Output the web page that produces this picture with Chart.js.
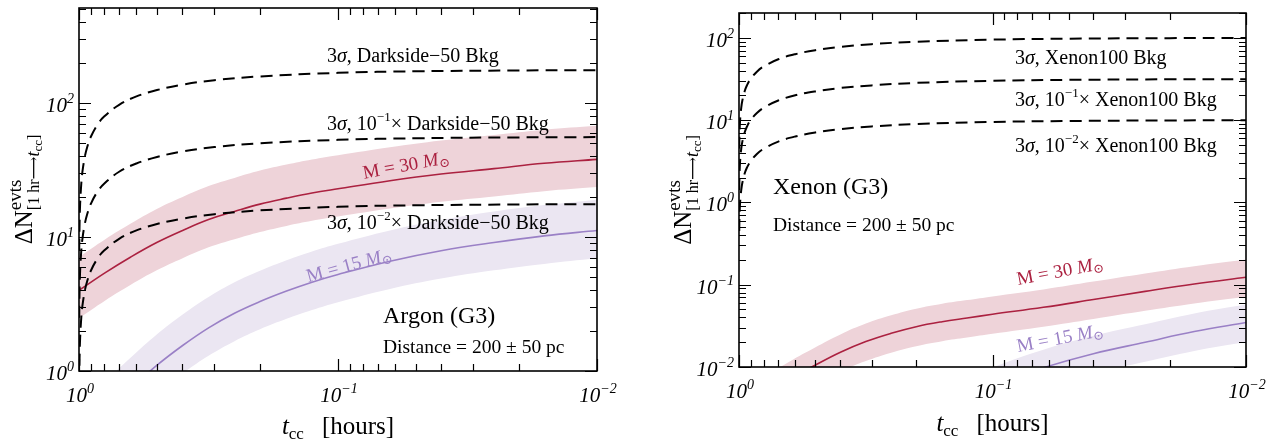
<!DOCTYPE html>
<html lang="en">
<head>
<meta charset="UTF-8">
<title>Event counts vs t_cc, Argon and Xenon (G3)</title>
<script src="https://cdn.jsdelivr.net/npm/chart.js"></script>
<style>
  body { margin: 0; background: #fff; }
  .panel { position: absolute; top: 0; height: 441px; }
</style>
</head>
<body>
<div class="panel" style="left:0;width:637px"><canvas id="argon" width="637" height="441"></canvas></div>
<div class="panel" style="left:637px;width:638px"><canvas id="xenon" width="638" height="441"></canvas></div>
<script>
// t_cc in hours (x axis, runs from 1 down to 0.01)
const tDashed = [0.998, 0.995, 0.99, 0.98, 0.97, 0.95, 0.93, 0.9, 0.85, 0.8, 0.7, 0.6, 0.5, 0.4, 0.3, 0.2, 0.1, 0.05, 0.02, 0.01];
const tModel = [1, 0.794, 0.631, 0.501, 0.398, 0.316, 0.251, 0.2, 0.158, 0.126, 0.1, 0.063, 0.04, 0.025, 0.016, 0.01];

// Argon (G3): 3 sigma background thresholds
const arBkg = [7.9, 12.5, 17.7, 25, 30.7, 39.6, 46.8, 56, 68.6, 79.2, 96.9, 112, 125, 137, 148, 158, 168, 172.5, 175, 176];
const arBkg01 = [2.5, 4.0, 5.6, 7.9, 9.7, 12.5, 14.8, 17.7, 21.7, 25, 30.7, 35.4, 39.6, 43.4, 46.9, 50.1, 53.1, 54.6, 55.4, 55.7];
const arBkg001 = [0.79, 1.25, 1.77, 2.5, 3.07, 3.96, 4.68, 5.6, 6.86, 7.92, 9.7, 11.2, 12.5, 13.7, 14.8, 15.8, 16.8, 17.25, 17.5, 17.6];
// Argon signal, M = 30 and M = 15 solar masses (central, 150 pc, 250 pc)
const ar30 = [4.0, 5.4, 7.1, 9.1, 11.2, 13.5, 15.5, 17.6, 19.5, 21.3, 22.9, 26.3, 29.5, 32.4, 35.5, 38.0];
const ar30Hi = [7.1, 9.6, 12.6, 16.2, 19.9, 24.0, 27.6, 31.3, 34.7, 37.9, 40.8, 46.8, 52.5, 57.7, 63.2, 67.6];
const ar30Lo = [2.48, 3.35, 4.4, 5.64, 6.94, 8.37, 9.61, 10.9, 12.1, 13.2, 14.2, 16.3, 18.3, 20.1, 22.0, 23.6];
const ar15 = [0.28, 0.48, 0.74, 1.1, 1.55, 2.1, 2.7, 3.3, 3.95, 4.6, 5.25, 6.6, 7.9, 9.1, 10.2, 11.2];
const ar15Hi = [0.48, 0.82, 1.26, 1.87, 2.64, 3.57, 4.6, 5.6, 6.7, 7.8, 8.9, 11.2, 13.4, 15.5, 17.3, 19.0];
const ar15Lo = [0.17, 0.3, 0.46, 0.68, 0.96, 1.3, 1.67, 2.05, 2.45, 2.85, 3.26, 4.1, 4.9, 5.64, 6.3, 6.94];

// Xenon (G3)
const xeBkg = [4.5, 7.07, 10, 14.1, 17.3, 22.4, 26.5, 31.6, 38.7, 44.7, 54.8, 63.2, 70.7, 77.5, 83.7, 89.4, 94.9, 97.5, 99, 99.5];
const xeBkg01 = [1.41, 2.23, 3.16, 4.47, 5.47, 7.07, 8.36, 10, 12.2, 14.1, 17.3, 20, 22.3, 24.5, 26.4, 28.3, 30, 30.8, 31.3, 31.4];
const xeBkg001 = [0.45, 0.71, 1, 1.41, 1.73, 2.24, 2.65, 3.16, 3.87, 4.47, 5.48, 6.32, 7.07, 7.75, 8.37, 8.94, 9.49, 9.75, 9.9, 9.95];
const xe30 = [0.0025, 0.0045, 0.0071, 0.0105, 0.0151, 0.0204, 0.0257, 0.0309, 0.0355, 0.0394, 0.0437, 0.0531, 0.066, 0.083, 0.102, 0.123];
const xe30Hi = [0.0041, 0.0074, 0.0117, 0.0173, 0.0249, 0.0337, 0.0424, 0.051, 0.0586, 0.065, 0.0721, 0.0876, 0.109, 0.137, 0.168, 0.203];
const xe30Lo = [0.00145, 0.0026, 0.0041, 0.0061, 0.0088, 0.0118, 0.0149, 0.0179, 0.0206, 0.0228, 0.0253, 0.0308, 0.0383, 0.0481, 0.0592, 0.0713];
const tXe15 = [0.398, 0.251, 0.158, 0.1, 0.063, 0.04, 0.025, 0.016, 0.01];
const xe15 = [0.001, 0.002, 0.0035, 0.006, 0.0098, 0.0145, 0.020, 0.027, 0.0347];
const xe15Hi = [0.00165, 0.0033, 0.0058, 0.0099, 0.0162, 0.0239, 0.033, 0.0446, 0.0573];
const xe15Lo = [0.00058, 0.00116, 0.002, 0.0035, 0.0057, 0.0084, 0.0116, 0.0157, 0.0201];

const RED = '#ab2140', RED_BAND = '#eed3d9';
const PURPLE = '#9a80c6', PURPLE_BAND = '#ebe6f2';
const SERIF = '"Liberation Serif", "DejaVu Serif", serif';

const pts = (xs, ys) => xs.map((x, i) => ({ x: x, y: ys[i] }));

function dashed(xs, ys) {
  return { data: pts(xs, ys), borderColor: '#000', borderWidth: 2, borderDash: [12, 7], fill: false };
}
function solid(xs, ys, color) {
  return { data: pts(xs, ys), borderColor: color, borderWidth: 1.6, fill: false };
}
function bandTop(xs, ys, color) {
  return { data: pts(xs, ys), borderColor: 'rgba(0,0,0,0)', borderWidth: 1, fill: '+1', backgroundColor: color };
}
function bandBottom(xs, ys) {
  return { data: pts(xs, ys), borderColor: 'rgba(0,0,0,0)', borderWidth: 1, fill: false };
}

// draws a run of text pieces: {t, s: size, i: italic, dy: baseline shift, back: start at previous piece}
function measureRich(ctx, segs) {
  let cur = 0, prevStart = 0;
  const out = [];
  segs.forEach(sg => {
    ctx.font = (sg.i ? 'italic ' : '') + sg.s + 'px ' + SERIF;
    const w = ctx.measureText(sg.t).width;
    const start = sg.back ? prevStart : cur;
    out.push({ sg: sg, x: start });
    prevStart = start;
    cur = Math.max(cur, start + w + (sg.gap || 0));
  });
  return { parts: out, width: cur };
}
function drawRich(ctx, x, y, segs, align, color) {
  const m = measureRich(ctx, segs);
  let x0 = x;
  if (align === 'center') x0 = x - m.width / 2;
  if (align === 'right') x0 = x - m.width;
  ctx.fillStyle = color || '#000';
  ctx.textBaseline = 'alphabetic';
  ctx.textAlign = 'left';
  m.parts.forEach(p => {
    ctx.font = (p.sg.i ? 'italic ' : '') + p.sg.s + 'px ' + SERIF;
    ctx.fillText(p.sg.t, x0 + p.x, y + (p.sg.dy || 0));
  });
}

function powLabel(e) {
  return [{ t: '10', s: 21, i: true }, { t: e < 0 ? '\u2212' + (-e) : String(e), s: 14, i: true, dy: -9 }];
}

const yTitle = [
  { t: '\u0394N', s: 25 },
  { t: 'evts', s: 19, dy: -11 },
  { t: '[1 hr\u27F6', s: 16, dy: 7, back: true },
  { t: 't', s: 18, i: true, dy: 7 },
  { t: 'cc', s: 13, dy: 10 },
  { t: ']', s: 16, dy: 7 }
];
const xTitle = [
  { t: 't', s: 25, i: true },
  { t: 'cc', s: 17, dy: 5, gap: 18 },
  { t: '[hours]', s: 25 }
];
function sigmaLine(exp, rest) {
  const s = [{ t: '3', s: 20 }, { t: '\u03C3', s: 20, i: true }];
  if (exp === null) { s.push({ t: ', ' + rest, s: 20 }); return s; }
  s.push({ t: ', 10', s: 20 }, { t: '\u2212' + exp, s: 13, dy: -9 }, { t: '\u00D7 ' + rest, s: 20 });
  return s;
}
function massLabel(m) {
  return [{ t: 'M = ' + m + ' ', s: 19 }, { t: 'M', s: 19, i: true }, { t: '\u2299', s: 13, dy: 3 }];
}

const axesPlugin = {
  id: 'axesPlugin',
  afterDraw(chart, args, o) {
    const { ctx, chartArea: a } = chart;
    const xs = chart.scales.x, ys = chart.scales.y;
    ctx.save();
    ctx.strokeStyle = '#000';
    // inner ticks on all four sides
    ctx.lineWidth = 1.2;
    ctx.beginPath();
    for (let e = -2; e <= 0; e++) {
      for (let m = 1; m <= 9; m++) {
        const v = m * Math.pow(10, e);
        if (v > 1.0001) continue;
        const px = Math.round(xs.getPixelForValue(v)) + 0.5;
        const len = m === 1 ? 12 : 7;
        ctx.moveTo(px, a.bottom); ctx.lineTo(px, a.bottom - len);
        ctx.moveTo(px, a.top); ctx.lineTo(px, a.top + len);
      }
    }
    for (let e = o.yExpMin; e <= o.yExpMax; e++) {
      for (let m = 1; m <= 9; m++) {
        const v = m * Math.pow(10, e);
        if (v > ys.max * 1.0001 || v < ys.min * 0.9999) continue;
        const py = Math.round(ys.getPixelForValue(v)) + 0.5;
        const len = m === 1 ? 12 : 7;
        ctx.moveTo(a.left, py); ctx.lineTo(a.left + len, py);
        ctx.moveTo(a.right, py); ctx.lineTo(a.right - len, py);
      }
    }
    ctx.stroke();
    ctx.lineWidth = 1.6;
    ctx.strokeRect(a.left, a.top, a.right - a.left, a.bottom - a.top);

    // tick labels
    for (let e = -2; e <= 0; e++) {
      drawRich(ctx, xs.getPixelForValue(Math.pow(10, e)) + 1, a.bottom + 31, powLabel(e), 'center');
    }
    for (let e = o.yExpMin; e <= o.yExpMax; e++) {
      const v = Math.pow(10, e);
      if (v > ys.max) continue;
      drawRich(ctx, a.left - 5, ys.getPixelForValue(v) + 9, powLabel(e), 'right');
    }

    // axis titles
    drawRich(ctx, (a.left + a.right) / 2, o.xTitleY, xTitle, 'center');
    ctx.save();
    ctx.translate(o.yTitleX, (a.top + a.bottom) / 2);
    ctx.rotate(-Math.PI / 2);
    drawRich(ctx, 0, 0, yTitle, 'center');
    ctx.restore();

    // annotations
    o.notes.forEach(n => {
      if (n.rot) {
        ctx.save();
        ctx.translate(n.x, n.y);
        ctx.rotate(n.rot * Math.PI / 180);
        drawRich(ctx, 0, 6, n.segs, 'center', n.color);
        ctx.restore();
      } else {
        drawRich(ctx, n.x, n.y, n.segs, 'left', n.color);
      }
    });
    ctx.restore();
  }
};

function makeChart(id, datasets, yMin, yMax, padding, axOpts) {
  return new Chart(document.getElementById(id), {
    type: 'line',
    data: { datasets: datasets },
    options: {
      responsive: false,
      animation: false,
      layout: { padding: padding },
      elements: { point: { radius: 0 }, line: { tension: 0.4 } },
      plugins: { legend: { display: false }, tooltip: { enabled: false }, axesPlugin: axOpts },
      scales: {
        x: { type: 'logarithmic', min: 0.01, max: 1, reverse: true, display: false },
        y: { type: 'logarithmic', min: yMin, max: yMax, display: false }
      }
    },
    plugins: [axesPlugin]
  });
}

makeChart('argon', [
  dashed(tDashed, arBkg),
  dashed(tDashed, arBkg01),
  dashed(tDashed, arBkg001),
  solid(tModel, ar30, RED),
  solid(tModel, ar15, PURPLE),
  bandTop(tModel, ar30Hi, RED_BAND),
  bandBottom(tModel, ar30Lo),
  bandTop(tModel, ar15Hi, PURPLE_BAND),
  bandBottom(tModel, ar15Lo)
], 1, 512, { left: 79, right: 40, top: 8, bottom: 70 }, {
  yExpMin: 0, yExpMax: 2, xTitleY: 434, yTitleX: 32,
  notes: [
    { x: 327, y: 62, segs: sigmaLine(null, 'Darkside\u221250 Bkg') },
    { x: 327, y: 130, segs: sigmaLine(1, 'Darkside\u221250 Bkg') },
    { x: 327, y: 229, segs: sigmaLine(2, 'Darkside\u221250 Bkg') },
    { x: 383, y: 323, segs: [{ t: 'Argon (G3)', s: 24 }] },
    { x: 383, y: 353, segs: [{ t: 'Distance = 200 \u00B1 50 pc', s: 19.5 }] },
    { x: 406, y: 165, rot: -10.3, segs: massLabel(30), color: RED },
    { x: 349, y: 265, rot: -15, segs: massLabel(15), color: PURPLE }
  ]
});

makeChart('xenon', [
  dashed(tDashed, xeBkg),
  dashed(tDashed, xeBkg01),
  dashed(tDashed, xeBkg001),
  solid(tModel, xe30, RED),
  solid(tXe15, xe15, PURPLE),
  bandTop(tModel, xe30Hi, RED_BAND),
  bandBottom(tModel, xe30Lo),
  bandTop(tXe15, xe15Hi, PURPLE_BAND),
  bandBottom(tXe15, xe15Lo)
], 0.01, 200, { left: 102, right: 29, top: 13, bottom: 74 }, {
  yExpMin: -2, yExpMax: 2, xTitleY: 431, yTitleX: 54,
  notes: [
    { x: 378, y: 64, segs: sigmaLine(null, 'Xenon100 Bkg') },
    { x: 378, y: 106, segs: sigmaLine(1, 'Xenon100 Bkg') },
    { x: 378, y: 152, segs: sigmaLine(2, 'Xenon100 Bkg') },
    { x: 136, y: 194, segs: [{ t: 'Xenon (G3)', s: 24 }] },
    { x: 136, y: 231, segs: [{ t: 'Distance = 200 \u00B1 50 pc', s: 19.5 }] },
    { x: 423, y: 271, rot: -10.7, segs: massLabel(30), color: RED },
    { x: 423, y: 338, rot: -10.7, segs: massLabel(15), color: PURPLE }
  ]
});
</script>
</body>
</html>
